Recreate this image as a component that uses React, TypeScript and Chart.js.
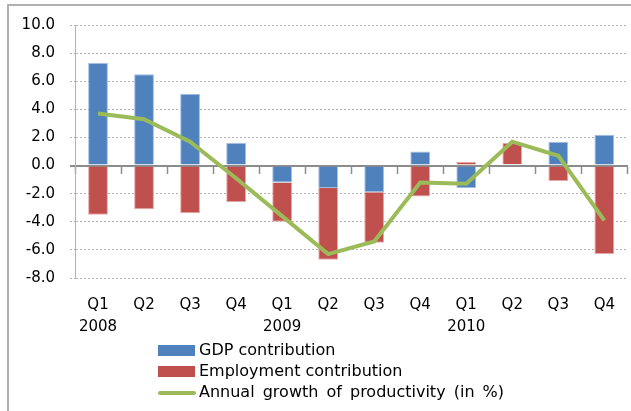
import React, { useEffect, useRef } from "react";
import { Chart, registerables } from "chart.js";

Chart.register(...registerables);

const quarters = ["Q1", "Q2", "Q3", "Q4", "Q1", "Q2", "Q3", "Q4", "Q1", "Q2", "Q3", "Q4"];
const years = ["2008", "", "", "", "2009", "", "", "", "2010", "", "", ""];
const gdpContribution = [7.3, 6.5, 5.1, 1.6, -1.2, -1.6, -1.9, 1.0, -1.6, 0.1, 1.7, 2.2];
const employmentContribution = [-3.5, -3.1, -3.4, -2.6, -2.8, -5.1, -3.6, -2.2, 0.25, 1.5, -1.1, -6.3];
const productivityGrowth = [3.7, 3.3, 1.7, -0.9, -3.6, -6.3, -5.4, -1.2, -1.3, 1.7, 0.7, -3.9];
const seriesNames = ["GDP contribution", "Employment contribution", "Annual growth of productivity (in %)"];
const yMin = -8;
const yMax = 10;
const yStep = 2;

const BLUE = "#4f81bd";
const RED = "#c0504d";
const GREEN = "#9bbb59";
const GRID = "#b3b3b3";
const AXIS = "#8c8c8c";
const FONT = "'DejaVu Sans', sans-serif";

export default function App() {
  const canvasRef = useRef<HTMLCanvasElement | null>(null);

  useEffect(() => {
    const canvas = canvasRef.current;
    if (!canvas) return;
    const labels = quarters.map((q, i) => (years[i] ? [q, years[i]] : q));
    const isZero = (ctx: any) => ctx.tick && ctx.tick.value === 0;
    const chart = new Chart(canvas, {
      type: "bar",
      data: {
        labels,
        datasets: [
          {
            type: "line",
            label: seriesNames[2],
            data: productivityGrowth,
            borderColor: GREEN,
            backgroundColor: GREEN,
            borderWidth: 4,
            pointRadius: 0,
            tension: 0,
            order: 0,
          } as any,
          {
            type: "bar",
            label: seriesNames[0],
            data: gdpContribution,
            backgroundColor: BLUE,
            borderColor: "#a3bee2",
            borderWidth: 1,
            barPercentage: 0.43,
            categoryPercentage: 1,
            order: 1,
          },
          {
            type: "bar",
            label: seriesNames[1],
            data: employmentContribution,
            backgroundColor: RED,
            borderColor: "#e5a8a6",
            borderWidth: 1,
            barPercentage: 0.43,
            categoryPercentage: 1,
            order: 2,
          },
        ],
      },
      options: {
        animation: false,
        responsive: false,
        maintainAspectRatio: false,
        layout: { padding: { left: 15, top: 25, right: 0, bottom: 0 } },
        plugins: {
          legend: { display: false },
          tooltip: { enabled: false },
        },
        scales: {
          x: {
            stacked: true,
            offset: true,
            grid: { display: false, drawTicks: false, offset: true },
            border: { display: false },
            ticks: {
              color: "#000",
              font: { family: FONT, size: 15, lineHeight: 1.45 },
              padding: 16,
              maxRotation: 0,
              autoSkip: false,
            },
            afterFit: (scale: any) => {
              scale.height = 133;
            },
          },
          x2: {
            type: "category",
            axis: "x",
            position: { y: 0 } as any,
            offset: true,
            grid: {
              display: true,
              drawOnChartArea: false,
              drawTicks: true,
              offset: true,
              tickLength: 7,
              tickColor: AXIS,
              tickWidth: 1.5,
              color: AXIS,
            },
            border: { display: true, color: AXIS, width: 2 },
            ticks: { display: false },
          } as any,
          y: {
            stacked: true,
            min: yMin,
            max: yMax,
            ticks: {
              stepSize: yStep,
              color: "#000",
              font: { family: FONT, size: 15 },
              padding: 15,
              callback: (v: any) => Number(v).toFixed(1),
            },
            grid: {
              color: (ctx: any) => (isZero(ctx) ? AXIS : GRID),
              lineWidth: (ctx: any) => (isZero(ctx) ? 2 : 1),
              tickLength: 5,
              tickColor: (ctx: any) => (isZero(ctx) ? AXIS : GRID),
              tickBorderDash: (ctx: any) => (isZero(ctx) ? [] : [2, 2]),
            },
            border: {
              display: true,
              color: GRID,
              dash: (ctx: any) => (isZero(ctx) ? [] : [2, 2]),
            },
            afterFit: (scale: any) => {
              scale.width = 60;
            },
          },
        },
      },
    });
    return () => chart.destroy();
  }, []);

  const legendText: React.CSSProperties = {
    position: "absolute",
    left: 199,
    fontFamily: FONT,
    fontSize: 16,
    lineHeight: "20px",
    color: "#000",
    whiteSpace: "nowrap",
  };

  return (
    <div style={{ position: "absolute", left: 0, top: 0, width: 631, height: 411, overflow: "hidden", background: "#fff" }}>
      <div
        style={{
          position: "absolute",
          left: 7,
          top: 4,
          width: 700,
          height: 500,
          borderLeft: "2px solid #b0b0b0",
          borderTop: "2px solid #b0b0b0",
        }}
      />
      <canvas ref={canvasRef} width={631} height={411} style={{ position: "absolute", left: 0, top: 0, width: 631, height: 411 }} />
      <div style={{ position: "absolute", left: 158, top: 345, width: 37, height: 11, background: BLUE }} />
      <div style={{ ...legendText, top: 340 }}>{seriesNames[0]}</div>
      <div style={{ position: "absolute", left: 158, top: 366, width: 37, height: 11, background: RED }} />
      <div style={{ ...legendText, top: 361 }}>{seriesNames[1]}</div>
      <div style={{ position: "absolute", left: 158, top: 391, width: 38, height: 4, borderRadius: 2, background: GREEN }} />
      <div style={{ ...legendText, top: 382, wordSpacing: 3 }}>{seriesNames[2]}</div>
    </div>
  );
}
